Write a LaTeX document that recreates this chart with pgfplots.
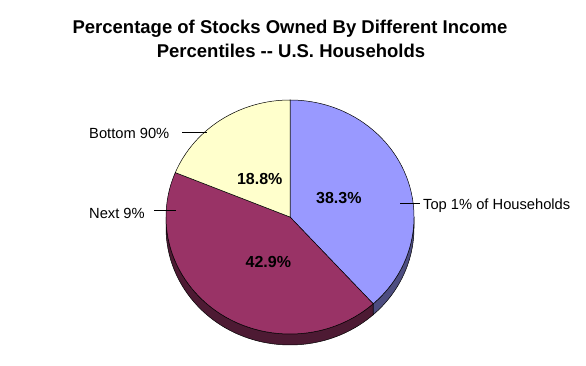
\documentclass[border=0pt]{standalone}
\usepackage{pgfplots}
\pgfplotsset{compat=1.18}
\usepackage{pgfplotstable}
\usepackage{fontspec}
\setmainfont{Liberation Sans}
\definecolor{topc}{HTML}{9999FF}
\definecolor{topside}{HTML}{4D4D80}
\definecolor{nextc}{HTML}{993366}
\definecolor{nextside}{HTML}{4D1A33}
\definecolor{botc}{HTML}{FFFFCC}
\pgfplotstableread{
value
38.3
42.9
18.8
}\piedata
\begin{document}
\begin{tikzpicture}
\pgfplotstablegetelem{0}{value}\of\piedata \let\vA\pgfplotsretval
\pgfplotstablegetelem{1}{value}\of\piedata \let\vB\pgfplotsretval
\pgfplotstablegetelem{2}{value}\of\piedata \let\vC\pgfplotsretval
\pgfmathsetmacro\aO{90}
\pgfmathsetmacro\aA{90-3.6*\vA}
\pgfmathsetmacro\aB{\aA-3.6*\vB}
\pgfmathsetmacro\aC{\aB-3.6*\vC}
\begin{axis}[at={(0,0)}, anchor=south west, width=586bp, height=366bp,
  scale only axis, xmin=0, xmax=586, ymin=0, ymax=366, hide axis, clip=false]
% sides
\filldraw[fill=topside, draw=black, line width=0.5pt] (axis cs:290,149) ++(\aA:124bp and 117bp)
  arc[start angle=\aA, end angle=0, x radius=124bp, y radius=117bp] -- ++(0,-11bp)
  arc[start angle=0, end angle=\aA, x radius=124bp, y radius=117bp] -- cycle;
\filldraw[fill=nextside, draw=black, line width=0.5pt] (axis cs:290,149) ++(-180:124bp and 117bp)
  arc[start angle=-180, end angle=\aA, x radius=124bp, y radius=117bp] -- ++(0,-11bp)
  arc[start angle=\aA, end angle=-180, x radius=124bp, y radius=117bp] -- cycle;
% tops
\filldraw[fill=topc, draw=black, line width=0.5pt] (axis cs:290,149) -- ++(\aO:124bp and 117bp)
  arc[start angle=\aO, end angle=\aA, x radius=124bp, y radius=117bp] -- cycle;
\filldraw[fill=nextc, draw=black, line width=0.5pt] (axis cs:290,149) -- ++(\aA:124bp and 117bp)
  arc[start angle=\aA, end angle=\aB, x radius=124bp, y radius=117bp] -- cycle;
\filldraw[fill=botc, draw=black, line width=0.5pt] (axis cs:290,149) -- ++(\aB:124bp and 117bp)
  arc[start angle=\aB, end angle=\aC, x radius=124bp, y radius=117bp] -- cycle;
% value labels
\node[anchor=base, font=\fontsize{16bp}{18bp}\selectfont\bfseries] at (axis cs:338.8,162.7) {38.3\%};
\node[anchor=base, font=\fontsize{16bp}{18bp}\selectfont\bfseries] at (axis cs:268.3,98.7) {42.9\%};
\node[anchor=base, font=\fontsize{16bp}{18bp}\selectfont\bfseries] at (axis cs:259.7,181) {18.8\%};
% leader lines
\draw[line width=0.6pt] (axis cs:182,233.3) -- (axis cs:207,233.3);
\draw[line width=0.6pt] (axis cs:154,156) -- (axis cs:176,156);
\draw[line width=0.6pt] (axis cs:400,163) -- (axis cs:420,163);
% category labels
\node[anchor=base west, inner sep=0pt, font=\fontsize{14.7bp}{17bp}\selectfont] at (axis cs:89,227.7) {Bottom 90\%};
\node[anchor=base west, inner sep=0pt, font=\fontsize{14.7bp}{17bp}\selectfont] at (axis cs:89,147) {Next 9\%};
\node[anchor=base west, inner sep=0pt, font=\fontsize{14.7bp}{17bp}\selectfont] at (axis cs:423,156.7) {Top 1\% of Households};
% title
\node[anchor=base, font=\fontsize{18.5bp}{22bp}\selectfont\bfseries] at (axis cs:290,332.5) {Percentage of Stocks Owned By Different Income};
\node[anchor=base, font=\fontsize{18.5bp}{22bp}\selectfont\bfseries] at (axis cs:291,308.3) {Percentiles -{}- U.S. Households};
\end{axis}
\pgfresetboundingbox
\path (0,0) rectangle (586bp,366bp);
\end{tikzpicture}
\end{document}
